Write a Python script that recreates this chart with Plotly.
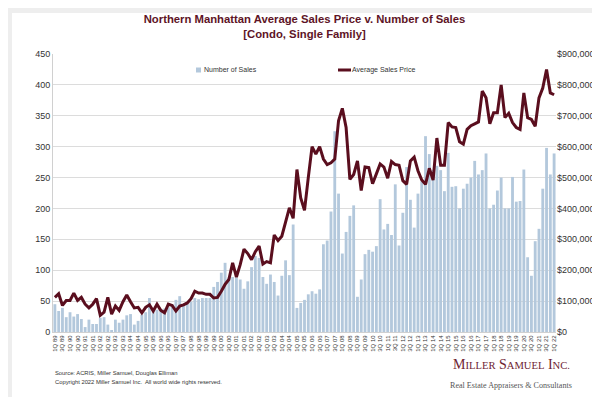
import plotly.graph_objects as go

# ---------------- data ----------------
start_year = 1989
n_quarters = 133  # 1Q 89 .. 1Q 22
quarters = [f"{(q % 4) + 1}Q {str(start_year + q // 4)[-2:]}" for q in range(n_quarters)]

number_of_sales = [
    45, 34, 39, 24, 32, 25, 29, 21, 8, 20, 13, 13, 23, 24, 12, 2, 20, 15, 20, 27, 29, 12, 18, 28, 32,
    55,
    38, 36, 33, 38, 40, 45, 52, 58, 44, 46,
    49, 55, 53, 55, 55, 55, 73, 81, 96, 112, 88, 89, 88, 85, 70, 82, 105, 123, 120, 89, 78, 93, 81,
    59, 91, 116, 92, 174, 39, 47, 52, 61, 66, 62, 69, 142, 148, 195, 325, 224, 127, 162, 188, 205,
    57, 85, 126, 133, 130, 139, 215, 166, 175, 157, 239, 140, 193, 267, 214, 169, 224, 244, 317, 288,
    262, 269, 262, 228, 290, 235, 236, 200, 232, 240, 250, 277, 255, 262, 289, 200, 206, 229, 250, 200,
    200, 251, 211, 212, 263,
    121, 91, 147, 167, 232, 298, 255, 289,
]

average_sales_price = [
    112000, 124000, 86000, 102000, 102000, 126000, 102000, 112000, 90000, 78000, 90000, 108000,
    54000, 64000, 112000, 58000, 84000, 70000, 98000, 120000, 98000, 78000, 80000, 62000, 80000,
    88000, 68000, 90000, 70000, 62000, 90000, 86000, 68000, 84000, 88000, 94000,
    108000, 132000, 126000, 126000, 122000, 122000, 110000, 112000, 132000, 154000, 170000, 224000,
    178000, 218000, 268000, 254000, 234000, 260000, 278000, 220000, 228000, 224000, 314000,
    296000, 310000, 356000, 402000, 368000, 526000, 434000, 394000, 500000, 600000, 576000, 600000,
    560000, 542000, 548000, 560000, 684000, 724000, 662000, 494000, 510000, 554000, 458000, 534000,
    532000, 480000, 512000, 544000, 534000, 498000, 552000, 542000, 540000, 490000, 478000, 554000,
    566000, 522000, 492000, 478000, 530000, 492000, 628000, 540000, 540000, 678000, 664000, 662000,
    616000, 608000, 656000, 668000, 674000, 680000, 780000, 758000, 674000, 710000, 710000, 800000,
    694000, 708000, 678000, 662000, 656000, 774000, 694000, 688000, 666000, 758000, 790000, 850000,
    774000, 768000,
]

tick_step = 2
tick_vals = quarters[::tick_step]

count_ticks = list(range(0, 451, 50))
price_ticks = list(range(0, 900001, 100000))
price_tick_text = ["$0"] + [f"${v:,}" for v in price_ticks[1:]]

title_text = "Northern Manhattan Average Sales Price v. Number of Sales<br>[Condo, Single Family]"

# ---------------- styling ----------------
W, H = 600, 397
ML, MR, MT, MB = 45, 52, 46, 73
PW, PH = W - ML - MR, H - MT - MB
BAR_COLOR = "#b3c8dc"
LINE_COLOR = "#5a0e1e"
TITLE_COLOR = "#5e1426"
FONT = "Arial, Liberation Sans, sans-serif"
SERIF = "Liberation Serif, Times New Roman, serif"


def px(x):
    return (x - ML) / PW


def py(y):
    return (H - MB - y) / PH


fig = go.Figure()
fig.add_trace(go.Bar(
    x=quarters, y=number_of_sales, name="Number of Sales",
    marker=dict(color=BAR_COLOR, line=dict(width=0)), yaxis="y", showlegend=False,
))
fig.add_trace(go.Scatter(
    x=quarters, y=average_sales_price, name="Average Sales Price", mode="lines",
    line=dict(color=LINE_COLOR, width=3), yaxis="y2", showlegend=False,
))

shapes = [
    dict(type="rect", xref="paper", yref="paper", x0=px(4), x1=px(596), y0=py(392), y1=py(5),
         fillcolor="white", line=dict(width=0), layer="below"),
    # manual legend swatches
    dict(type="rect", xref="paper", yref="paper", x0=px(188), x1=px(193), y0=py(64.5), y1=py(59.5),
         fillcolor=BAR_COLOR, line=dict(width=0)),
    dict(type="line", xref="paper", yref="paper", x0=px(330), x1=px(343), y0=py(62), y1=py(62),
         line=dict(color=LINE_COLOR, width=3)),
]

annotations = [
    dict(text="Number of Sales", x=px(194), y=py(62), xref="paper", yref="paper",
         xanchor="left", yanchor="middle", showarrow=False, font=dict(size=7, color="#333", family=FONT)),
    dict(text="Average Sales Price", x=px(342), y=py(62), xref="paper", yref="paper",
         xanchor="left", yanchor="middle", showarrow=False, font=dict(size=7, color="#333", family=FONT)),
    dict(text="Source: ACRIS, Miller Samuel, Douglas Elliman", x=px(45), y=py(365), xref="paper", yref="paper",
         xanchor="left", yanchor="middle", showarrow=False, font=dict(size=5.8, color="#333", family=FONT)),
    dict(text="Copyright 2022 Miller Samuel Inc.  All world wide rights reserved.", x=px(45), y=py(374),
         xref="paper", yref="paper", xanchor="left", yanchor="middle", showarrow=False,
         font=dict(size=5.8, color="#333", family=FONT)),
    dict(text="M<span style='font-size:10.6px'>ILLER</span> S<span style='font-size:10.6px'>AMUEL</span> "
              "I<span style='font-size:10.6px'>NC.</span>",
         x=px(503), y=py(356), xref="paper", yref="paper", xanchor="center", yanchor="middle",
         showarrow=False, font=dict(size=14, color="#6e2333", family=SERIF)),
    dict(text="Real Estate Appraisers &amp; Consultants", x=px(503), y=py(377), xref="paper", yref="paper",
         xanchor="center", yanchor="middle", showarrow=False,
         font=dict(size=8.1, color="#555", family=SERIF)),
]

fig.update_layout(
    template="none",
    width=W, height=H,
    margin=dict(l=ML, r=MR, t=MT, b=MB, pad=0, autoexpand=False),
    paper_bgcolor="#eeeeee", plot_bgcolor="white",
    font=dict(family=FONT, color="#333"),
    title=dict(text=title_text, x=0.5, xref="paper", xanchor="center", y=1 - 15 / H, yanchor="top",
               font=dict(size=11.3, color=TITLE_COLOR, family=FONT, weight="bold")),
    bargap=0.25,
    xaxis=dict(
        type="category", tickmode="array", tickvals=tick_vals, ticktext=tick_vals, automargin=False,
        tickangle=-90, tickfont=dict(size=6, color="#333"), ticks="", showgrid=False,
        showline=True, linecolor="#d0d0d0", linewidth=1, range=[-0.5, n_quarters - 0.5],
    ),
    yaxis=dict(
        range=[0, 450], tickvals=count_ticks, tickfont=dict(size=9, color="#333"), automargin=False,
        showgrid=True, gridcolor="#dcdcdc", gridwidth=1, showline=True, linecolor="#d0d0d0",
        zeroline=False, ticks="",
    ),
    yaxis2=dict(
        range=[0, 900000], overlaying="y", side="right", tickvals=price_ticks, ticktext=price_tick_text,
        automargin=False, tickfont=dict(size=9, color="#333"), showgrid=False, zeroline=False,
        showline=False, ticks="",
    ),
    shapes=shapes, annotations=annotations,
)

fig.write_html("out.html")
